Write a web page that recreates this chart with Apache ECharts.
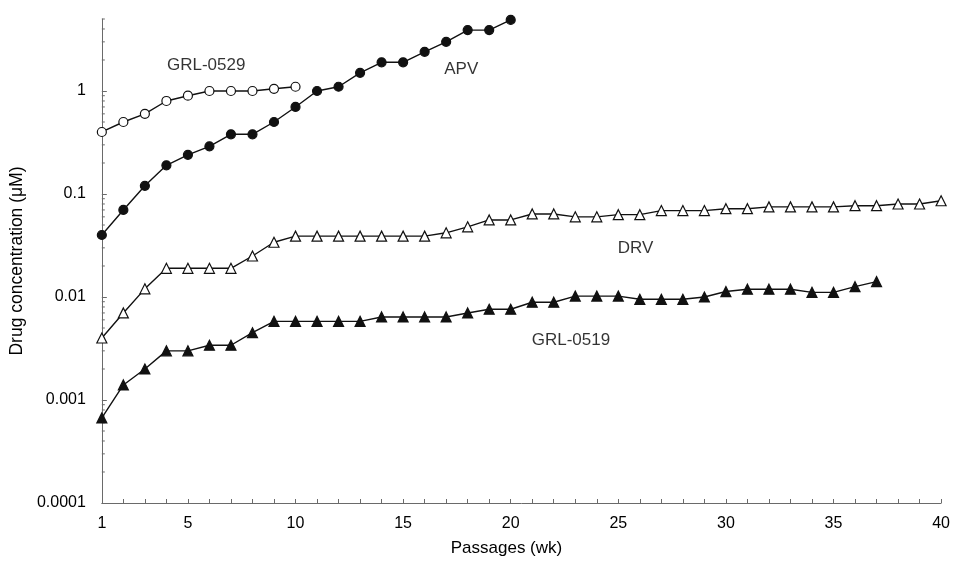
<!DOCTYPE html>
<html>
<head>
<meta charset="utf-8">
<script src="https://cdn.jsdelivr.net/npm/echarts@6/dist/echarts.min.js"></script>
<style>
html,body{margin:0;padding:0;background:#fff;}
#chart{width:953px;height:562px;}
</style>
</head>
<body>
<div id="chart"></div>
<script>
// ---- data ----
var xTickLabels = [1, 5, 10, 15, 20, 25, 30, 35, 40];
var yTickLabels = ['0.0001', '0.001', '0.01', '0.1', '1'];

var grl0529Weeks = [1,2,3,4,5,6,7,8,9,10];
var grl0529 = [0.40,0.50,0.60,0.80,0.90,1.0,1.0,1.0,1.05,1.1];

var apvWeeks = [1,2,3,4,5,6,7,8,9,10,11,12,13,14,15,16,17,18,19,20];
var apv = [0.04,0.07,0.12,0.19,0.24,0.29,0.38,0.38,0.50,0.70,1.0,1.1,1.5,1.9,1.9,2.4,3.0,3.9,3.9,4.9];

var drvWeeks = [1,2,3,4,5,6,7,8,9,10,11,12,13,14,15,16,17,18,19,20,21,22,23,24,25,26,27,28,29,30,31,32,33,34,35,36,37,38,39,40];
var drv = [0.004,0.007,0.012,0.019,0.019,0.019,0.019,0.025,0.034,0.039,0.039,0.039,0.039,0.039,0.039,0.039,0.042,0.048,0.056,0.056,
           0.064,0.064,0.060,0.060,0.063,0.063,0.069,0.069,0.069,0.072,0.072,0.075,0.075,0.075,0.075,0.077,0.077,0.080,0.080,0.086];

var grl0519Weeks = [1,2,3,4,5,6,7,8,9,10,11,12,13,14,15,16,17,18,19,20,21,22,23,24,25,26,27,28,29,30,31,32,33,34,35,36,37];
var grl0519 = [0.00067,0.0014,0.002,0.003,0.003,0.0034,0.0034,0.0045,0.0058,0.0058,0.0058,0.0058,0.0058,0.0064,0.0064,0.0064,0.0064,0.007,0.0076,0.0076,
               0.0089,0.0089,0.0102,0.0102,0.0102,0.0095,0.0095,0.0095,0.010,0.0113,0.0119,0.0119,0.0119,0.0111,0.0111,0.0126,0.0141];

var seriesNames = ['GRL-0529', 'APV', 'DRV', 'GRL-0519'];
// annotation anchors (data units)
var annotX = [5.85, 17.7, 25.8, 22.8];
var annotY = [1.77, 1.62, 0.030, 0.0038];

// minor log ticks on y axis (2..9 per decade, up to axis top 5)
var yMinorTicks = [];
[0.0001, 0.001, 0.01, 0.1, 1].forEach(function (d) {
  for (var k = 2; k <= 9; k++) {
    var v = +(d * k).toPrecision(3);
    if (v <= 5) yMinorTicks.push(v);
  }
});

function zip(xs, ys) { return xs.map(function (x, i) { return [x, ys[i]]; }); }

var FONT = 'Liberation Sans, Arial, sans-serif';
var AX = '#6a6a6a';
var TXT = '#000';

var chart = echarts.init(document.getElementById('chart'), null, {renderer: 'canvas'});

function lineSeries(name, data, symbol, fill) {
  return {
    name: name, type: 'line', data: data,
    symbol: symbol, symbolSize: symbol === 'circle' ? 9 : 10,
    showAllSymbol: true,
    lineStyle: {color: '#111', width: 1.4},
    itemStyle: {color: fill, borderColor: '#111', borderWidth: 1.2},
    z: 3, animation: false
  };
}

var option = {
  animation: false,
  backgroundColor: '#fff',
  textStyle: {fontFamily: FONT},
  grid: {left: 101, right: 8, top: 19, bottom: 56, containLabel: false},
  xAxis: {
    type: 'value', min: 1, max: 40, interval: 1,
    name: 'Passages (wk)', nameLocation: 'middle', nameGap: 37,
    nameTextStyle: {fontFamily: FONT, fontSize: 17, color: TXT, padding: [0, 30, 0, 0]},
    axisLine: {show: true, lineStyle: {color: AX, width: 1}},
    axisTick: {show: true, inside: true, length: 4, lineStyle: {color: AX}},
    axisLabel: {
      fontFamily: FONT, fontSize: 16, color: TXT, margin: 13,
      formatter: function (v) { return xTickLabels.indexOf(Math.round(v)) >= 0 && Math.abs(v - Math.round(v)) < 1e-6 ? String(Math.round(v)) : ''; }
    },
    splitLine: {show: false}
  },
  yAxis: {
    type: 'log', logBase: 10, min: 0.0001, max: 5,
    name: 'Drug concentration (\u03bcM)', nameLocation: 'middle', nameGap: 74, nameRotate: 90,
    nameTextStyle: {fontFamily: FONT, fontSize: 17.5, color: TXT},
    axisLine: {show: true, lineStyle: {color: AX, width: 1}},
    axisTick: {show: true, inside: true, length: 5, lineStyle: {color: AX}},
    axisLabel: {
      fontFamily: FONT, fontSize: 16, color: TXT, margin: 16,
      showMaxLabel: false,
      formatter: function (v) {
        var e = Math.round(Math.log10(v));
        if (Math.abs(Math.log10(v) - e) > 1e-6) return '';
        var idx = e + 4;
        return yTickLabels[idx] !== undefined ? yTickLabels[idx] : '';
      }
    },
    splitLine: {show: false}
  },
  series: [
    lineSeries(seriesNames[0], zip(grl0529Weeks, grl0529), 'circle', '#fff'),
    lineSeries(seriesNames[1], zip(apvWeeks, apv), 'circle', '#111'),
    lineSeries(seriesNames[2], zip(drvWeeks, drv), 'triangle', '#fff'),
    lineSeries(seriesNames[3], zip(grl0519Weeks, grl0519), 'triangle', '#111'),
    {
      type: 'custom', name: 'minorTicks', silent: true, clip: false, z: 1,
      data: yMinorTicks.map(function (v) { return [1, v]; }),
      renderItem: function (params, api) {
        var p = api.coord([api.value(0), api.value(1)]);
        return {type: 'line', shape: {x1: p[0], y1: p[1], x2: p[0] + 3, y2: p[1]},
                style: {stroke: AX, lineWidth: 1}};
      }
    },
    {
      type: 'scatter', name: 'labels', silent: true, symbolSize: 0, z: 4,
      data: seriesNames.map(function (n, i) { return {value: [annotX[i], annotY[i]], name: n}; }),
      label: {show: true, position: 'inside', formatter: '{b}', fontFamily: FONT, fontSize: 17, color: TXT}
    }
  ]
};
chart.setOption(option);
</script>
</body>
</html>
